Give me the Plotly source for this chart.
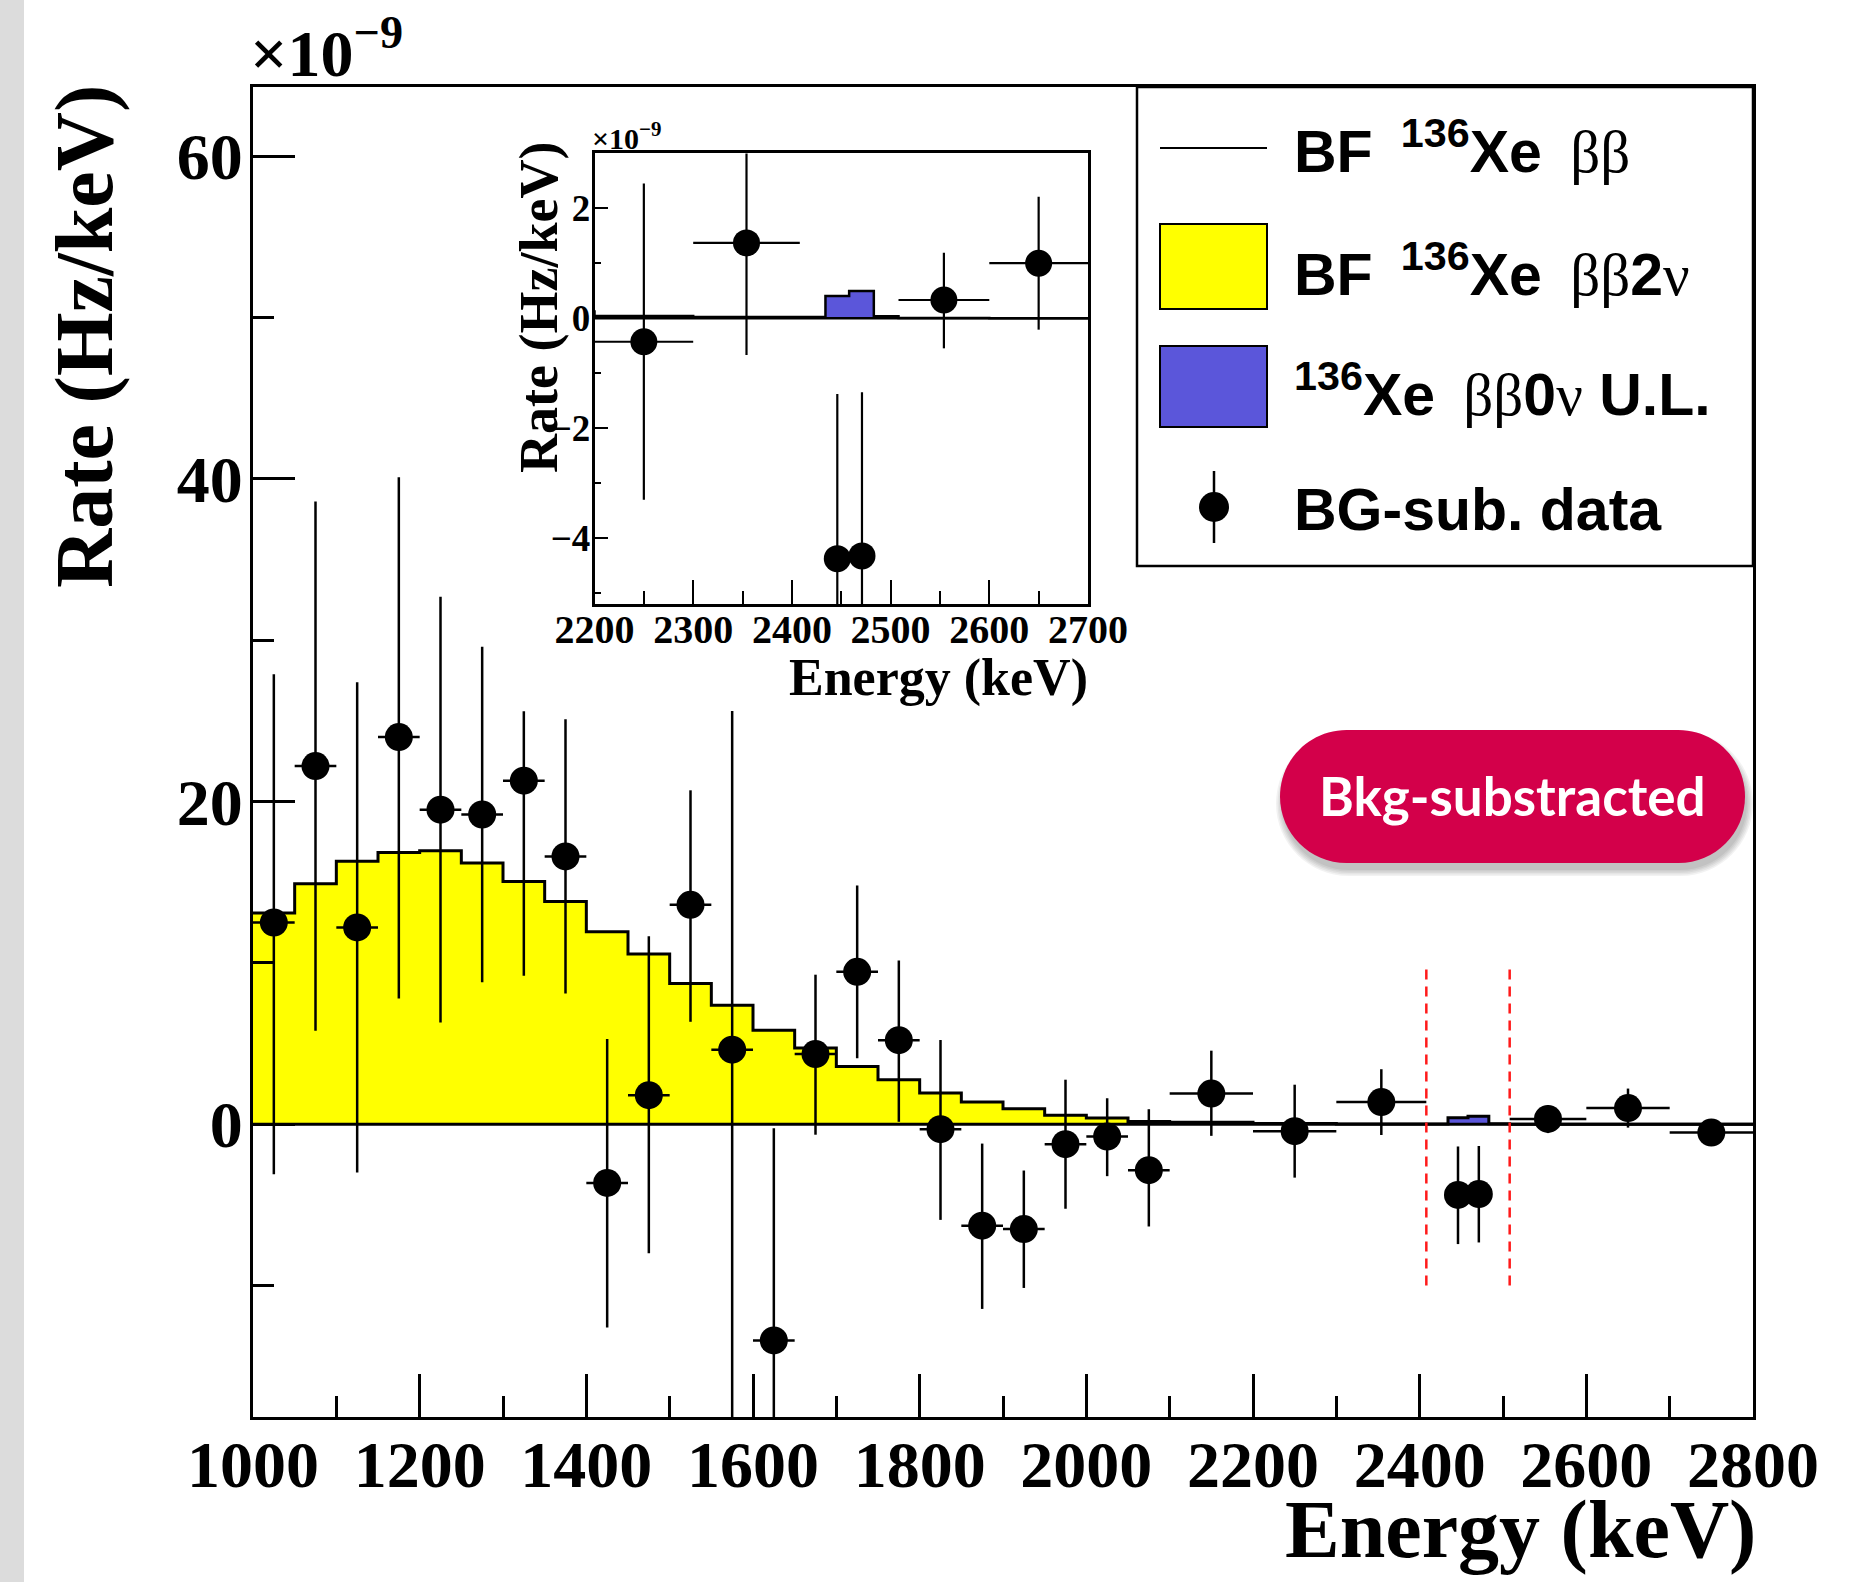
import plotly.graph_objects as go

# ---------------- data (rates in units of 1e-9 Hz/keV) ----------------
bin_edges = [1000, 1050, 1100, 1150, 1200, 1250, 1300, 1350, 1400, 1450, 1500,
             1550, 1600, 1650, 1700, 1750, 1800, 1850, 1900, 1950, 2000, 2050,
             2100, 2200, 2300, 2408, 2434, 2458, 2483, 2508, 2600, 2700, 2800]
bf_2nu = [13.1, 14.9, 16.3, 16.85, 16.95, 16.2, 15.05, 13.8, 11.93, 10.55, 8.72,
          7.38, 5.83, 4.73, 3.58, 2.75, 1.93, 1.38, 0.96, 0.55, 0.38, 0.17,
          0.12, 0.04, 0.02, 0.01, 0.005, 0.003, 0.002, 0.001, 0.0, 0.0]
ul_0nu = [0, 0, 0, 0, 0, 0, 0, 0, 0, 0, 0,
          0, 0, 0, 0, 0, 0, 0, 0, 0, 0, 0,
          0, 0, 0, 0.01, 0.40, 0.49, 0.03, 0, 0, 0]

data_x = [1025, 1075, 1125, 1175, 1225, 1275, 1325, 1375, 1425, 1475, 1525,
          1575, 1625, 1675, 1725, 1775, 1825, 1875, 1925, 1975, 2025, 2075,
          2150, 2250, 2354, 2446, 2471, 2554, 2650, 2750]
data_xerr = [25, 25, 25, 25, 25, 25, 25, 25, 25, 25, 25,
             25, 25, 25, 25, 25, 25, 25, 25, 25, 25, 25,
             50, 50, 54, 12, 12.5, 46, 50, 50]
data_y = [12.5, 22.2, 12.2, 24.0, 19.5, 19.2, 21.3, 16.6, -3.64, 1.8, 13.6,
          4.62, -13.4, 4.35, 9.45, 5.21, -0.31, -6.29, -6.5, -1.24, -0.76, -2.85,
          1.9, -0.43, 1.37, -4.38, -4.33, 0.33, 1.0, -0.52]
err_plus = [15.4, 16.4, 15.2, 16.1, 13.2, 10.4, 4.3, 8.5, 8.92, 9.86, 7.1,
            21.0, 13.15, 4.92, 5.35, 4.94, 5.53, 5.09, 3.63, 4.0, 2.37, 3.78,
            2.66, 2.88, 2.04, 3.0, 2.98, 0.86, 1.21, 0.4]
err_minus = [15.6, 16.4, 15.2, 16.2, 13.2, 10.4, 12.1, 8.5, 8.96, 9.8, 7.25,
             24.0, 13.15, 5.0, 5.36, 5.06, 5.62, 5.16, 3.65, 4.0, 2.46, 3.49,
             2.62, 2.88, 2.04, 3.05, 3.0, 0.88, 1.21, 0.4]
roi_lines = [2408, 2508]

total = [a + b for a, b in zip(bf_2nu, ul_0nu)]
roi_idx = [i for i, v in enumerate(ul_0nu) if v > 0]
blue_x = [bin_edges[i] for i in roi_idx] + [bin_edges[roi_idx[-1] + 1]]
blue_y = [total[i] for i in roi_idx] + [total[roi_idx[-1]]]

# ---------------- layout helpers ----------------
W, H = 1870, 1582
SERIF = "Liberation Serif"
SANS = "Liberation Sans"
YELLOW = "#ffff00"
BLUE = "#5b56da"
BADGE = "#d3004a"


def px(x):
    return x / W


def py(y):
    return 1 - y / H


fig = go.Figure()


def add_panel(xa, ya, lw, ew, ms):
    fig.add_trace(go.Scatter(x=bin_edges, y=bf_2nu + [bf_2nu[-1]], mode="lines",
                             line=dict(shape="hv", width=0, color="rgba(0,0,0,0)"),
                             fill="tozeroy", fillcolor=YELLOW, xaxis=xa, yaxis=ya,
                             showlegend=False, hoverinfo="skip"))
    fig.add_trace(go.Scatter(x=blue_x, y=blue_y, mode="lines",
                             line=dict(shape="hv", width=0, color="rgba(0,0,0,0)"),
                             fill="tozeroy", fillcolor=BLUE, xaxis=xa, yaxis=ya,
                             showlegend=False, hoverinfo="skip"))
    fig.add_trace(go.Scatter(x=bin_edges, y=total + [total[-1]], mode="lines",
                             line=dict(shape="hv", width=lw, color="black"),
                             xaxis=xa, yaxis=ya, showlegend=False, hoverinfo="skip"))
    fig.add_trace(go.Scatter(x=[bin_edges[0], bin_edges[-1]], y=[0, 0], mode="lines",
                             line=dict(width=lw, color="black"),
                             xaxis=xa, yaxis=ya, showlegend=False, hoverinfo="skip"))
    fig.add_trace(go.Scatter(x=data_x, y=data_y, mode="markers",
                             marker=dict(size=ms, color="black"),
                             error_x=dict(type="data", array=data_xerr, width=0,
                                          thickness=ew, color="black"),
                             error_y=dict(type="data", symmetric=False, array=err_plus,
                                          arrayminus=err_minus, width=0,
                                          thickness=ew, color="black"),
                             xaxis=xa, yaxis=ya, showlegend=False))


add_panel("x", "y", 3, 2.5, 28)
add_panel("x2", "y2", 2.5, 2.2, 27)

axis_common = dict(showgrid=False, zeroline=False, showline=True, mirror=True,
                   linecolor="black", ticks="inside", tickcolor="black",
                   automargin=False)

fig.update_layout(
    width=W, height=H, margin=dict(l=0, r=0, t=0, b=0, autoexpand=False),
    paper_bgcolor="white", plot_bgcolor="white", showlegend=False,
    xaxis=dict(domain=[px(253), px(1753)], range=[1000, 2800], anchor="y",
               tickmode="linear", tick0=1000, dtick=200, ticklen=43, tickwidth=2.5,
               linewidth=3,
               minor=dict(tick0=1000, dtick=100, ticks="inside", ticklen=21,
                          tickwidth=2.5, tickcolor="black"),
               tickfont=dict(family=SERIF, size=66, color="black", weight="bold"),
               ticklabelstandoff=-12, **axis_common),
    yaxis=dict(domain=[py(1417), py(87)], range=[-18.15, 64.3], anchor="x",
               tickmode="linear", tick0=0, dtick=20, ticklen=42, tickwidth=2.5,
               linewidth=3,
               minor=dict(tick0=0, dtick=10, ticks="inside", ticklen=21,
                          tickwidth=2.5, tickcolor="black"),
               tickfont=dict(family=SERIF, size=66, color="black", weight="bold"),
               ticklabelstandoff=-6, **axis_common),
    xaxis2=dict(domain=[px(594.5), px(1088)], range=[2200, 2700], anchor="y2",
                tickmode="linear", tick0=2200, dtick=100, ticklen=24, tickwidth=2,
                linewidth=2.5,
                minor=dict(tick0=2200, dtick=50, ticks="inside", ticklen=13,
                           tickwidth=2, tickcolor="black"),
                tickfont=dict(family=SERIF, size=40, color="black", weight="bold"),
                ticklabelstandoff=-12, **axis_common),
    yaxis2=dict(domain=[py(604.2), py(153.4)], range=[-5.21, 3.0], anchor="x2",
                tickmode="linear", tick0=0, dtick=2, ticklen=14, tickwidth=2,
                linewidth=2.5,
                minor=dict(tick0=0, dtick=1, ticks="inside", ticklen=7,
                           tickwidth=2, tickcolor="black"),
                tickfont=dict(family=SERIF, size=37, color="black", weight="bold"),
                ticklabelstandoff=-6, **axis_common),
)

shapes = []
# left textured strip of the slide background
shapes.append(dict(type="rect", xref="paper", yref="paper", x0=0, x1=px(24), y0=0, y1=1,
                   fillcolor="#dcdcdc", line=dict(width=0), layer="below"))
# ROI dashed lines
for xv in roi_lines:
    shapes.append(dict(type="line", xref="x", yref="y", x0=xv, x1=xv, y0=-10, y1=10,
                       line=dict(color="#ff1a1a", width=2.5, dash="10px,7px"), layer="above"))
# legend box
shapes.append(dict(type="rect", xref="paper", yref="paper", x0=px(1137), x1=px(1753),
                   y0=py(566), y1=py(87), fillcolor="white",
                   line=dict(color="black", width=2.5), layer="above"))
shapes.append(dict(type="line", xref="paper", yref="paper", x0=px(1160), x1=px(1267),
                   y0=py(148), y1=py(148), line=dict(color="black", width=2), layer="above"))
shapes.append(dict(type="rect", xref="paper", yref="paper", x0=px(1160), x1=px(1267),
                   y0=py(309), y1=py(224), fillcolor=YELLOW,
                   line=dict(color="black", width=2), layer="above"))
shapes.append(dict(type="rect", xref="paper", yref="paper", x0=px(1160), x1=px(1267),
                   y0=py(427), y1=py(346), fillcolor=BLUE,
                   line=dict(color="black", width=2), layer="above"))
shapes.append(dict(type="line", xref="paper", yref="paper", x0=px(1214), x1=px(1214),
                   y0=py(543), y1=py(471), line=dict(color="black", width=2.5), layer="above"))
shapes.append(dict(type="circle", xref="paper", yref="paper", x0=px(1199), x1=px(1229),
                   y0=py(522), y1=py(492), fillcolor="black",
                   line=dict(color="black", width=0), layer="above"))


def pill(x0, y0, x1, y1):
    r = (y1 - y0) / 2.0
    k = 0.5523 * r
    pts = [("M", [(x0 + r, y0)]), ("L", [(x1 - r, y0)]),
           ("C", [(x1 - r + k, y0), (x1, y0 + r - k), (x1, y0 + r)]),
           ("C", [(x1, y0 + r + k), (x1 - r + k, y1), (x1 - r, y1)]),
           ("L", [(x0 + r, y1)]),
           ("C", [(x0 + r - k, y1), (x0, y0 + r + k), (x0, y0 + r)]),
           ("C", [(x0, y0 + r - k), (x0 + r - k, y0), (x0 + r, y0)])]
    s = ""
    for cmd, pl in pts:
        s += cmd + " ".join("%.5f,%.5f" % (px(a), py(b)) for a, b in pl) + " "
    return s + "Z"


# badge shadow and badge
for i in range(5):
    g = 1.5 * i
    shapes.append(dict(type="path", xref="paper", yref="paper",
                       path=pill(1280 - g + 2, 730 - g + 7, 1745 + g + 2, 863 + g + 7),
                       fillcolor="rgba(0,0,0,0.05)", line=dict(width=0), layer="above"))
shapes.append(dict(type="path", xref="paper", yref="paper", path=pill(1280, 730, 1745, 863),
                   fillcolor=BADGE, line=dict(width=0), layer="above"))

fig.update_layout(shapes=shapes)

SP = "\u00a0"
TH = "\u2009"
GR = '<span style="font-family:Liberation Serif;font-weight:normal">%s</span>'
ann = []


def text(t, x, y, size, family=SERIF, xanchor="left", yanchor="middle", angle=0,
         color="black", weight="normal"):
    ann.append(dict(text=t, x=px(x), y=py(y), xref="paper", yref="paper",
                    xanchor=xanchor, yanchor=yanchor, textangle=angle, showarrow=False,
                    font=dict(family=family, size=size, color=color, weight=weight)))


text("<b>×10<sup>−9</sup></b>", 248, 92, 66, yanchor="bottom")
text("<b>×10<sup>−9</sup></b>", 590, 157, 30, yanchor="bottom")
text("<b>Rate (Hz/keV)</b>", 85, 337, 82, xanchor="center", angle=-90)
text("<b>Energy (keV)</b>", 1758, 1529, 82, xanchor="right")
text("<b>Rate (Hz/keV)</b>", 539, 308, 54, xanchor="center", angle=-90)
text("<b>Energy (keV)</b>", 1090, 678, 52, xanchor="right")

GAP = SP + TH
text("<b>BF" + GAP + "<sup>136</sup>Xe</b>" + GAP + GR % "ββ", 1292, 147, 59, family=SANS)
text("<b>BF" + GAP + "<sup>136</sup>Xe</b>" + GAP + GR % "ββ" + "<b>2</b>" + GR % "ν",
     1292, 270, 59, family=SANS)
text("<b><sup>136</sup>Xe</b>" + GAP + GR % "ββ" + "<b>0</b>" + GR % "ν" + "<b>" + SP + "U.L.</b>",
     1292, 391, 59, family=SANS)
text("<b>BG-sub. data</b>", 1292, 510, 59, family=SANS)

text("<b>Bkg-substracted</b>", 1512, 795, 53, family="Lato", xanchor="center", color="white")

fig.update_layout(annotations=ann)
fig.write_html("out.html", config={"displayModeBar": False},
               post_script="document.body.style.margin='0px';")
